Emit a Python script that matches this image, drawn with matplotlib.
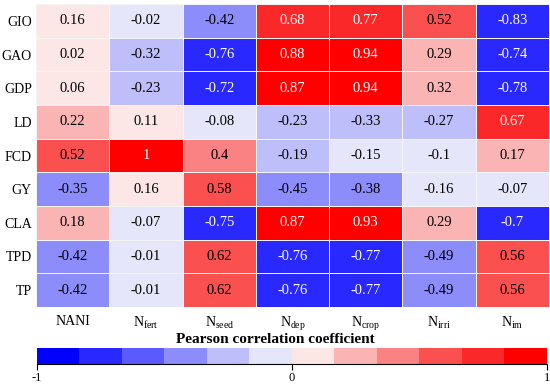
import numpy as np
import matplotlib.pyplot as plt
from matplotlib.colors import ListedColormap, BoundaryNorm

plt.rcParams['font.family'] = 'Liberation Serif'
plt.rcParams['mathtext.fontset'] = 'custom'
plt.rcParams['mathtext.rm'] = 'Liberation Serif'
plt.rcParams['mathtext.it'] = 'Liberation Serif'

rows = ['GIO', 'GAO', 'GDP', 'LD', 'FCD', 'GY', 'CLA', 'TPD', 'TP']
cols = ['NANI', r'N$_{\mathrm{fert}}$', r'N$_{\mathrm{seed}}$', r'N$_{\mathrm{dep}}$',
        r'N$_{\mathrm{crop}}$', r'N$_{\mathrm{irri}}$', r'N$_{\mathrm{im}}$']

gio = [0.16, -0.02, -0.42, 0.68, 0.77, 0.52, -0.83]
gao = [0.02, -0.32, -0.76, 0.88, 0.94, 0.29, -0.74]
gdp = [0.06, -0.23, -0.72, 0.87, 0.94, 0.32, -0.78]
ld = [0.22, 0.11, -0.08, -0.23, -0.33, -0.27, 0.67]
fcd = [0.52, 1, 0.4, -0.19, -0.15, -0.1, 0.17]
gy = [-0.35, 0.16, 0.58, -0.45, -0.38, -0.16, -0.07]
cla = [0.18, -0.07, -0.75, 0.87, 0.93, 0.29, -0.7]
tpd = [-0.42, -0.01, 0.62, -0.76, -0.77, -0.49, 0.56]
tp = [-0.42, -0.01, 0.62, -0.76, -0.77, -0.49, 0.56]

data = np.array([gio, gao, gdp, ld, fcd, gy, cla, tpd, tp])

colors = ['#0000ff', '#2828ff', '#5a5aff', '#8c8cfa', '#bebefa', '#e6e6fa',
          '#fde6e6', '#fab4b4', '#fa8282', '#fa5050', '#fa2828', '#ff0000']
cmap = ListedColormap(colors)
bounds = np.linspace(-1, 1, 13)
norm = BoundaryNorm(bounds, cmap.N)

fig = plt.figure(figsize=(5.5, 3.85), dpi=100)
ax = fig.add_axes([0.0655, 0.2026, 0.9325, 0.787])
mesh = ax.pcolormesh(data, cmap=cmap, norm=norm, edgecolors='#f4f4f4', linewidth=0.4)
ax.set_xlim(0, data.shape[1])
ax.set_ylim(data.shape[0], 0)

for i in range(data.shape[0]):
    for j in range(data.shape[1]):
        v = data[i, j]
        ax.text(j + 0.5, i + 0.5, f'{v:g}', ha='center', va='center', fontsize=10.5,
                color='white' if abs(v) > 0.65 else 'black')

ax.set_xticks(np.arange(len(cols)) + 0.5)
ax.set_xticklabels(cols, fontsize=10)
ax.set_yticks(np.arange(len(rows)) + 0.5)
ax.set_yticklabels(rows, fontsize=10)
ax.tick_params(axis='x', length=0, pad=6)
ax.tick_params(axis='y', length=0, pad=3)
for s in ax.spines.values():
    s.set_visible(False)

cax = fig.add_axes([0.067, 0.0545, 0.927, 0.0416])
cb = fig.colorbar(mesh, cax=cax, orientation='horizontal', ticks=[-1, 0, 1])
cb.outline.set_visible(False)
cax.minorticks_off()
cax.spines['bottom'].set_visible(True)
cax.spines['bottom'].set_linewidth(0.8)
cax.set_xticklabels(['-1', '0', '1'], fontsize=9)
cax.tick_params(length=4, width=0.8, pad=2)
fig.text(0.5, 0.117, 'Pearson correlation coefficient', ha='center', va='center',
         fontsize=11, fontweight='bold')

fig.savefig('out.png', dpi=100)
